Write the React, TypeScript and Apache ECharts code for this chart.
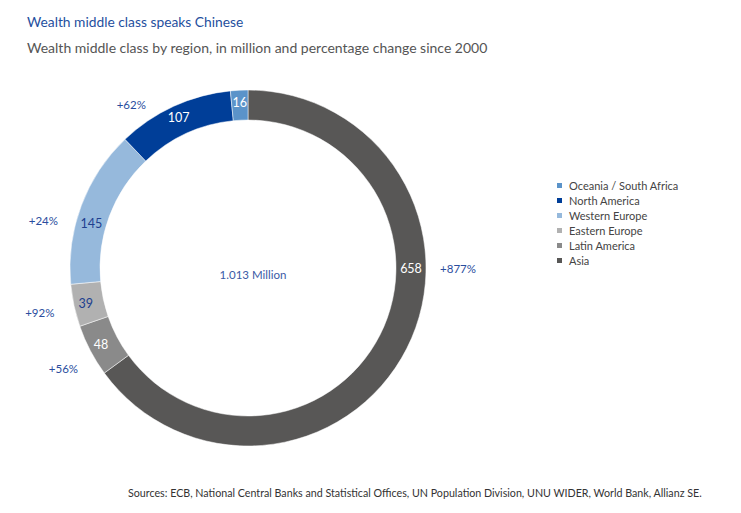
import React, { useEffect, useRef } from "react";
import * as echarts from "echarts";

const categories = ["Asia", "Latin America", "Eastern Europe", "Western Europe", "North America", "Oceania / South Africa"];
const values = [658, 48, 39, 145, 107, 16];
const changes = ["+877%", "+56%", "+92%", "+24%", "+62%", ""];
const legendOrder = ["Oceania / South Africa", "North America", "Western Europe", "Eastern Europe", "Latin America", "Asia"];
const colors = ["#585756", "#8a8a8a", "#b1b1b1", "#96b9dc", "#003e98", "#5b93c9"];
const valueLabelColors = ["#ffffff", "#ffffff", "#203f8f", "#203f8f", "#ffffff", "#ffffff"];
const valueLabelAngle: (number | null)[] = [0, null, null, 164, null, null];
const changeLabelAngle: (number | null)[] = [0, 208.5, null, 167, 125.5, null];
const changeLabelRadius = [210, 210, 210, 210, 201, 210];
const totalLabel = "1.013 Million";

const FONT = "Lato";
const CX = 248;
const CY = 268;
const R0 = 148;
const R1 = 178;

function polar(angleDeg: number, r: number) {
  const a = (angleDeg * Math.PI) / 180;
  return { x: CX + r * Math.cos(a), y: CY - r * Math.sin(a) };
}

export default function App() {
  const ref = useRef<HTMLDivElement>(null);
  useEffect(() => {
    document.body.style.margin = "0";
    const chart = echarts.init(ref.current!, null, { renderer: "svg" });
    const data = categories.map((name, i) => ({
      name,
      value: values[i],
      itemStyle: { color: colors[i] },
      label: { color: valueLabelColors[i] },
    }));
    chart.setOption({
      animation: false,
      backgroundColor: "#ffffff",
      title: [
        {
          text: "Wealth middle class speaks Chinese",
          left: 22,
          top: 9,
          textStyle: { fontFamily: FONT, fontSize: 13.8, fontWeight: "normal", color: "#1f4f9e" },
        },
        {
          text: "Wealth middle class by region, in million and percentage change since 2000",
          left: 22,
          top: 35,
          textStyle: { fontFamily: FONT, fontSize: 14, fontWeight: "normal", color: "#555555" },
        },
        {
          text: "Sources: ECB, National Central Banks and Statistical Offices, UN Population Division, UNU WIDER, World Bank, Allianz SE.",
          left: 123,
          top: 482,
          textStyle: { fontFamily: FONT, fontSize: 10.7, fontWeight: "normal", color: "#333333" },
        },
        {
          text: totalLabel,
          left: CX,
          top: CY + 1,
          textAlign: "center",
          textVerticalAlign: "middle",
          textStyle: { fontFamily: FONT, fontSize: 11.5, fontWeight: "normal", color: "#3a5aa6" },
        },
      ],
      legend: {
        orient: "vertical",
        left: 550,
        top: 175,
        itemWidth: 7,
        itemHeight: 7,
        itemGap: 4,
        icon: "rect",
        data: legendOrder,
        textStyle: { fontFamily: FONT, fontSize: 11, color: "#444444", padding: [0, 0, 0, 1] },
        selectedMode: false,
      },
      series: [
        {
          type: "pie",
          center: [CX, CY],
          radius: [R0, R1],
          startAngle: 90,
          clockwise: true,
          avoidLabelOverlap: false,
          itemStyle: { borderColor: "#ffffff", borderWidth: 0.5 },
          label: {
            show: true,
            position: "inside",
            formatter: "{c}",
            fontFamily: FONT,
            fontSize: 12.5,
          },
          labelLine: { show: false },
          emphasis: { disabled: true },
          labelLayout: (p: any) => {
            const a = valueLabelAngle[p.dataIndex];
            if (a === null || a === undefined) return {};
            const pt = polar(a, (R0 + R1) / 2);
            return { x: pt.x, y: pt.y, align: "center", verticalAlign: "middle" };
          },
          data,
        },
        {
          type: "pie",
          center: [CX, CY],
          radius: [200, 220],
          startAngle: 90,
          clockwise: true,
          silent: true,
          avoidLabelOverlap: false,
          itemStyle: { color: "rgba(0,0,0,0)" },
          label: {
            show: true,
            position: "inside",
            formatter: (p: any) => changes[p.dataIndex],
            fontFamily: FONT,
            fontSize: 11.5,
            color: "#2a4d9e",
          },
          labelLine: { show: false },
          emphasis: { disabled: true },
          tooltip: { show: false },
          legendHoverLink: false,
          labelLayout: (p: any) => {
            const a = changeLabelAngle[p.dataIndex];
            if (a === null || a === undefined) return {};
            const pt = polar(a, changeLabelRadius[p.dataIndex]);
            return { x: pt.x, y: pt.y, align: "center", verticalAlign: "middle" };
          },
          data: categories.map((name, i) => ({ name: name + " ", value: values[i] })),
        },
      ],
    });
    return () => chart.dispose();
  }, []);
  return <div ref={ref} style={{ width: 741, height: 513 }} />;
}
